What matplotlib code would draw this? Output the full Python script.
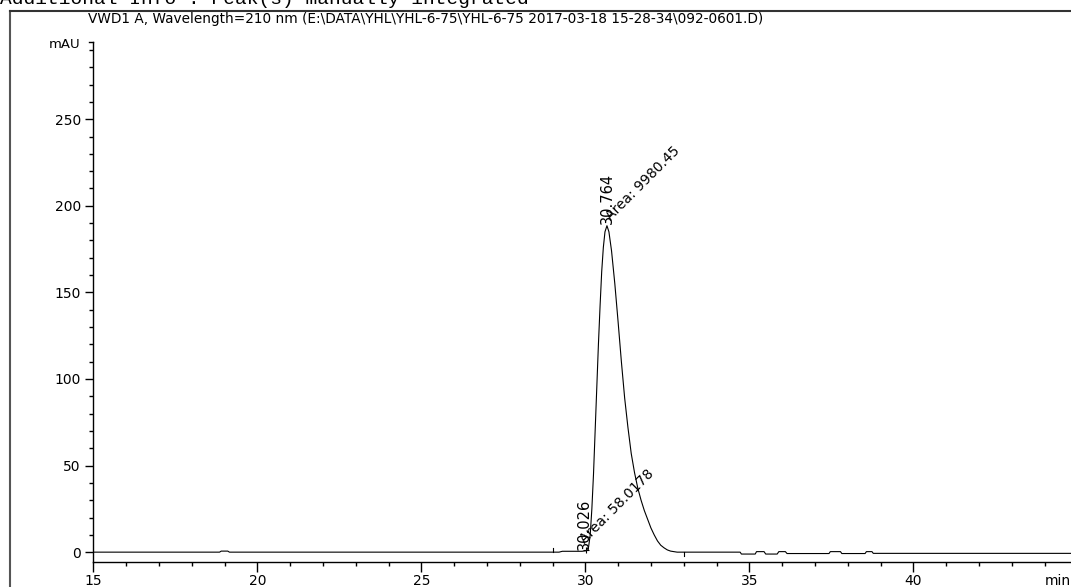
import matplotlib
matplotlib.use("Agg")
import matplotlib.pyplot as plt
from matplotlib.lines import Line2D
from matplotlib.ticker import MultipleLocator

# chromatogram trace (min, mAU)
time = [15.0, 18.85, 18.9, 19.1, 19.15, 29.2, 29.3, 29.9, 30.026, 30.10,
        30.15, 30.20, 30.25, 30.30, 30.35, 30.40, 30.45, 30.50, 30.55, 30.60,
        30.66, 30.72, 30.80, 30.90, 31.00, 31.10, 31.20, 31.30, 31.40, 31.50,
        31.60, 31.70, 31.80, 31.90, 32.00, 32.10, 32.20, 32.30, 32.40, 32.50,
        32.60, 32.80, 34.72, 34.76, 35.18, 35.22, 35.45, 35.5, 35.85, 35.9,
        36.1, 36.15, 37.43, 37.47, 37.78, 37.82, 38.53, 38.57, 38.74, 38.78, 44.8]
mau = [0, 0, 0.6, 0.6, 0, 0, 0.5, 0.5, 0.8, 3,
       10, 25, 45, 70, 95, 120, 142, 162, 176, 185,
       188.5, 185, 174, 155, 133, 110, 89, 72, 57, 46,
       37, 30, 24, 19, 14, 10, 6.5, 4, 2.5, 1.3,
       0.6, 0, 0, -1.1, -1.1, 0.3, 0.3, -1.1, -1.1, 0.3,
       0.3, -0.8, -0.8, 0.3, 0.3, -0.8, -0.8, 0.3, 0.3, -0.7, -0.7]

peak_rt = [30.026, 30.764]
peak_apex = [(29.98, 1.0), (30.66, 189.5)]
peak_area = ["58.0178", "9980.45"]
area_pos = [(30.05, 3.5), (30.84, 190.0)]

title = "VWD1 A, Wavelength=210 nm (E:\\DATA\\YHL\\YHL-6-75\\YHL-6-75 2017-03-18 15-28-34\\092-0601.D)"
info = "Additional Info : Peak(s) manually integrated"

W, H = 1071, 587
fig = plt.figure(figsize=(W / 100, H / 100), dpi=100)
plt.rcParams['font.family'] = 'DejaVu Sans'

ax = fig.add_axes([93.3 / W, (H - 561.5) / H, (W - 93.3) / W, (561.5 - 42) / H])
ax.plot(time, mau, color='black', lw=0.8)
ax.set_xlim(15, 15 + (W - 93.3) / 32.8)
ax.set_ylim(-5.4, 294.6)

for s in ['top', 'right']:
    ax.spines[s].set_visible(False)
for s in ['left', 'bottom']:
    ax.spines[s].set_linewidth(1.0)

ax.xaxis.set_major_locator(MultipleLocator(5))
ax.xaxis.set_minor_locator(MultipleLocator(1))
ax.yaxis.set_major_locator(MultipleLocator(50))
ax.yaxis.set_minor_locator(MultipleLocator(10))
ax.set_yticks(range(0, 300, 50))
ax.tick_params(axis='both', which='major', length=6, width=1, labelsize=10, pad=3)
ax.tick_params(axis='both', which='minor', length=3, width=1)
ax.tick_params(axis='x', which='major', length=7, pad=2)
# small tick at top of the y axis
ax.plot([-0.004, 0], [1, 1], transform=ax.transAxes, color='black', lw=1, clip_on=False)

# integration markers
ax.plot([29.0, 29.0], [0, 2.2], color='black', lw=0.8)
ax.plot([33.0, 33.0], [-2.5, 0], color='black', lw=0.8)
ax.plot([30.026], [1.2], marker='+', color='black', ms=5, mew=0.8)

for rt, (px, py), area, (ax_, ay_) in zip(peak_rt, peak_apex, peak_area, area_pos):
    ax.text(px, py, f"{rt:.3f}", rotation=90, ha='center', va='bottom', fontsize=10.5)
    ax.text(ax_, ay_, f"Area: {area}", rotation=45, rotation_mode='anchor',
            ha='left', va='bottom', fontsize=10)

fig.text(80 / W, 1 - 45 / H, "mAU", ha='right', va='center', fontsize=9.5)
fig.text(1045 / W, 1 - 581 / H, "min", ha='left', va='center', fontsize=10)
fig.text(88 / W, 1 - 19 / H, title, ha='left', va='center', fontsize=9.8)
fig.text(0, 1 - 4 / H, info, ha='left', va='baseline', fontsize=14, family='Liberation Mono')

# outer frame
fig.add_artist(Line2D([9.5 / W, 9.5 / W], [0, 1 - 11 / H], color='#555555', lw=1.5))
fig.add_artist(Line2D([9.5 / W, 1], [1 - 11 / H, 1 - 11 / H], color='#333333', lw=1.5))

fig.savefig("out.png", dpi=100)
